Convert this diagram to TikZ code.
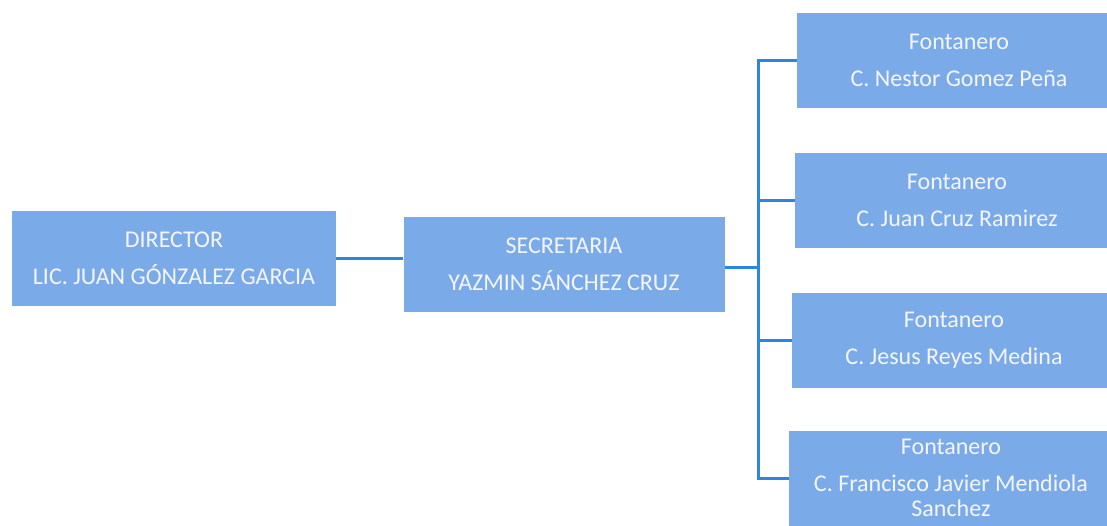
\documentclass[tikz,border=0pt]{standalone}
\usepackage{fontspec}
\setmainfont{Carlito}
\definecolor{boxblue}{RGB}{122,171,232}
\definecolor{lineblue}{RGB}{44,133,222}

\begin{document}
\begin{tikzpicture}[x=1pt, y=-1pt,
                    every node/.style={rectangle,
                                  fill=boxblue,
                                  text=white!96!blue,
                                  align=center,
                                  inner xsep=4pt, inner ysep=0pt,
                                  minimum width=324pt,
                                  minimum height=95pt,
                                  font=\fontsize{24}{37}\selectfont}]
                      \useasboundingbox (0,0) rectangle (1107,525);

                      \node (dir) at (174, 258) {DIRECTOR\\LIC. JUAN GÓNZALEZ GARCIA};
                      \node[minimum width=321pt] (sec) at (564, 264) {SECRETARIA\\YAZMIN SÁNCHEZ CRUZ};
                      \node (f1) at (959, 60) {Fontanero\\C. Nestor Gomez Peña};
                      \node (f2) at (957, 200) {Fontanero\\C. Juan Cruz Ramirez};
                      \node (f3) at (954, 340) {Fontanero\\C. Jesus Reyes Medina};
                      \node (f4) at (951, 478) {Fontanero\\C. Francisco Javier Mendiola\\[-12pt]Sanchez};

                      \coordinate (bus) at (758, 267);

                      \draw[lineblue, line width=3pt] (dir.east) -- (dir.east -| sec.west);
                      \draw[lineblue, line width=3pt] (sec.east |- bus) -- (bus);
                      \foreach \f in {f1, f2, f3, f4} {
                              \draw[lineblue, line width=3pt] (bus) |- (\f.west);
                          }
                  \end{tikzpicture}
\end{document}
